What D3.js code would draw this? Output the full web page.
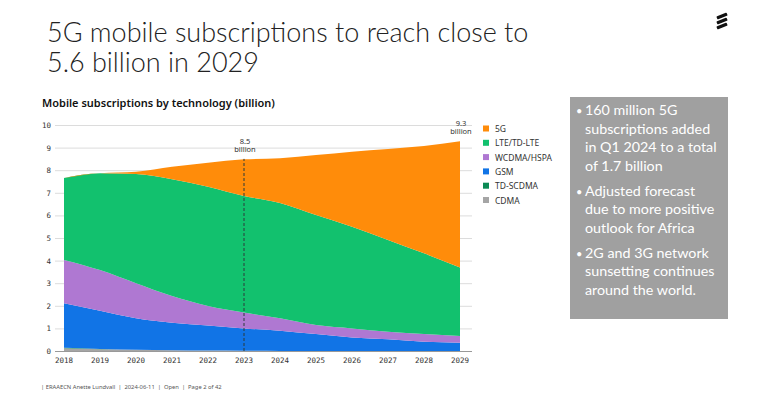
<!DOCTYPE html>
<html><head><meta charset="utf-8">
<script src="https://cdn.jsdelivr.net/npm/d3@7"></script>
<style>
html,body{margin:0;padding:0;background:#fff;}
svg{display:block;}
</style></head>
<body>
<svg id="c" width="770" height="403"></svg>
<script>
// ---- data ----
const years = [2018,2019,2020,2021,2022,2023,2024,2025,2026,2027,2028,2029];
const cdma     = [0.12,0.08,0.05,0.03,0.02,0.01,0,0,0,0,0,0];
const tdscdma  = [0.02,0.01,0,0,0,0,0,0,0,0,0,0];
const gsm      = [1.97,1.69,1.40,1.22,1.11,0.99,0.90,0.75,0.60,0.52,0.41,0.37];
const wcdma    = [1.92,1.80,1.55,1.18,0.86,0.70,0.55,0.40,0.40,0.33,0.34,0.29];
const lte      = [3.62,4.28,4.83,5.17,5.28,5.16,5.10,4.87,4.50,4.06,3.57,3.04];
const fiveG    = [0,0.01,0.10,0.55,1.06,1.62,1.98,2.65,3.32,4.03,4.75,5.58];
const yTicks = [0,1,2,3,4,5,6,7,8,9,10];
const seriesNames = ["CDMA","TD-SCDMA","GSM","WCDMA/HSPA","LTE/TD-LTE","5G"];
const seriesColors = ["#a5a5a5","#0b8a55","#1174e6","#af78d2","#12c16e","#ff8c0a"];
const legendOrder = ["5G","LTE/TD-LTE","WCDMA/HSPA","GSM","TD-SCDMA","CDMA"];
const annotations = [{year:2023, value:8.5, text:["8.5","billion"], line:true},{year:2029, value:9.3, text:["9.3","billion"], line:false}];
const title = ["5G mobile subscriptions to reach close to","5.6 billion in 2029"];
const subtitle = "Mobile subscriptions by technology (billion)";
const bullets = [
  ["160 million 5G","subscriptions added","in Q1 2024 to a total","of 1.7 billion"],
  ["Adjusted forecast","due to more positive","outlook for Africa"],
  ["2G and 3G network","sunsetting continues","around the world."]
];
const footer = "| ERAAECN Anette Lundvall  |  2024-06-11  |  Open  |  Page 2 of 42";

const seriesData = [cdma,tdscdma,gsm,wcdma,lte,fiveG];
const table = years.map((y,i)=>{const o={year:y}; seriesNames.forEach((n,k)=>o[n]=seriesData[k][i]); return o;});

const svg = d3.select("#c");
const x = d3.scaleLinear().domain([2018,2029]).range([64,460]);
const y = d3.scaleLinear().domain([0,10]).range([351,125]);

// title
const t = svg.append("text").attr("x",47).attr("y",42).attr("font-family","Lato").attr("font-weight",300)
  .attr("font-size",27).attr("fill","#222");
title.forEach((l,i)=>t.append("tspan").attr("x",47).attr("dy",i?30:0).text(l));

// logo
const logo = svg.append("g").attr("transform","translate(722,21)");
[-5,0,5].forEach(d=>logo.append("rect").attr("x",-5.5).attr("y",d-1.6).attr("width",11).attr("height",3.2)
  .attr("rx",0.8).attr("fill","#111").attr("transform",`rotate(-22,0,${d})`));

// subtitle
svg.append("text").attr("x",42).attr("y",107).attr("font-family","Noto Sans").attr("font-weight",600)
  .attr("font-size",11).attr("fill","#111").text(subtitle);

// grid
svg.append("g").selectAll("line").data(yTicks).join("line")
  .attr("x1",55).attr("x2",472).attr("y1",d=>y(d)+0.5).attr("y2",d=>y(d)+0.5)
  .attr("stroke",d=>d===0?"#999":"#dcdcdc").attr("stroke-width",1);

// areas
const stack = d3.stack().keys(seriesNames);
const layers = stack(table);
const area = d3.area().x(d=>x(d.data.year)).y0(d=>y(d[0])).y1(d=>y(d[1])).curve(d3.curveMonotoneX);
svg.append("g").selectAll("path").data(layers).join("path")
  .attr("d",area).attr("fill",(d,i)=>seriesColors[i]);

// y axis labels
svg.append("g").selectAll("text").data(yTicks).join("text")
  .attr("x",51).attr("y",d=>y(d)+3).attr("text-anchor","end")
  .attr("font-family","DejaVu Sans Mono").attr("font-size",7.5).attr("fill","#333").text(d=>d);
// x axis labels
svg.append("g").selectAll("text").data(years).join("text")
  .attr("x",d=>x(d)).attr("y",363).attr("text-anchor","middle")
  .attr("font-family","DejaVu Sans Mono").attr("font-size",7.5).attr("fill","#333").text(d=>d);

// annotations
annotations.forEach(a=>{
  if(a.line) svg.append("line").attr("x1",x(a.year)).attr("x2",x(a.year)).attr("y1",y(0)).attr("y2",y(a.value))
    .attr("stroke","#2a3a3a").attr("stroke-width",1).attr("stroke-dasharray","3,2");
  const tx = svg.append("text").attr("x",x(a.year)+1).attr("y",y(a.value)-15).attr("text-anchor","middle")
    .attr("font-family","Noto Sans").attr("font-size",7.5).attr("fill","#333");
  a.text.forEach((l,i)=>tx.append("tspan").attr("x",x(a.year)+1).attr("dy",i?8.5:0).text(l));
});

// legend
const lg = svg.append("g").attr("transform","translate(483,129)");
legendOrder.forEach((n,i)=>{
  const k = seriesNames.indexOf(n);
  lg.append("rect").attr("x",0).attr("y",i*14.3-3.5).attr("width",6).attr("height",6).attr("fill",seriesColors[k]);
  lg.append("text").attr("x",12).attr("y",i*14.3+3).attr("font-family","Noto Sans").attr("font-size",8.5)
    .attr("fill","#333").text(n);
});

// grey box
svg.append("rect").attr("x",570).attr("y",97).attr("width",158).attr("height",222).attr("fill","#a0a0a0");
let yy = 115;
const bx = svg.append("g").attr("font-family","Lato").attr("font-size",14.3).attr("fill","#fff");
bullets.forEach((b,bi)=>{
  bx.append("text").attr("x",576).attr("y",yy).attr("font-size",11).text("•");
  b.forEach((l,li)=>{
    bx.append("text").attr("x",585).attr("y",yy).text(l);
    if(li<b.length-1) yy+=18.5;
  });
  yy+=25;
});

// footer
svg.append("text").attr("x",41).attr("y",389).attr("font-family","Noto Sans").attr("font-size",5.8)
  .attr("fill","#555").attr("xml:space","preserve").text(footer);
</script>
</body></html>
